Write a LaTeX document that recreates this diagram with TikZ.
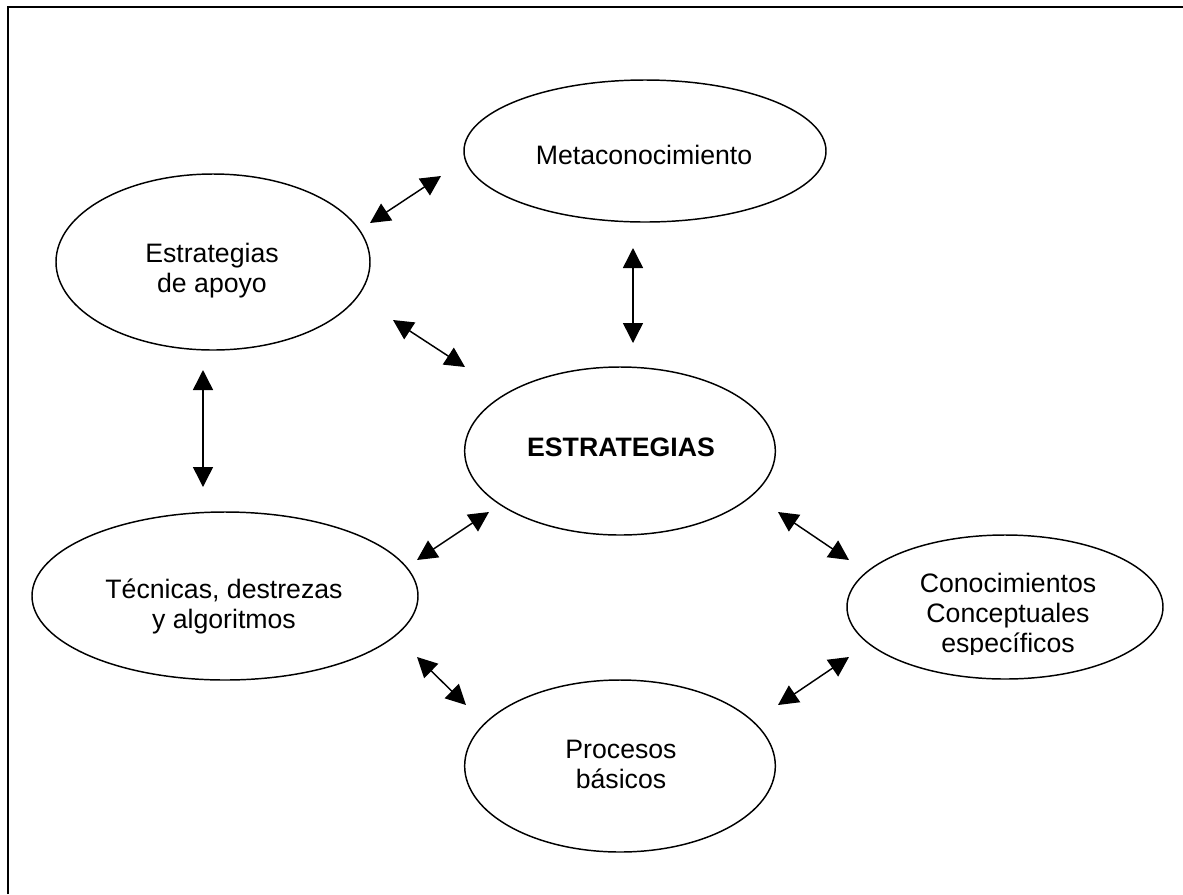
\documentclass[tikz,border=0pt]{standalone}
\usepackage{fontspec}
\setmainfont{Liberation Sans}
\usetikzlibrary{shapes.geometric,arrows.meta}
\begin{document}
\begin{tikzpicture}[x=0.75pt,y=-0.75pt,
  oval/.style={draw, ellipse, line width=1.1pt, inner sep=0pt},
  lbl/.style={font=\fontsize{20}{22.5}\selectfont, align=center, inner sep=0pt},
  link/.style={line width=1.1pt, {Triangle[length=15pt,width=15pt]}-{Triangle[length=15pt,width=15pt]}}
]
\useasboundingbox (0,0) rectangle (1183,894);
\draw[line width=2.2pt] (8,894) -- (8,7) -- (1183,7);

\node[oval, minimum width=271.5pt, minimum height=106.5pt] (meta) at (645,151) {};
\node[oval, minimum width=235.5pt, minimum height=132pt] (apoyo) at (213,262) {};
\node[oval, minimum width=233pt, minimum height=126pt] (estr) at (620,451) {};
\node[oval, minimum width=289.5pt, minimum height=126pt] (tec) at (225,596) {};
\node[oval, minimum width=237pt, minimum height=108pt] (con) at (1005,607) {};
\node[oval, minimum width=233pt, minimum height=129pt] (proc) at (620,766) {};

\node[lbl] (metat) at (644,155) {Metaconocimiento};
\node[lbl] (apoyot) at (212,271) {Estrategias\\de apoyo};
\node[lbl] (estrt) at (621,447) {\bfseries ESTRATEGIAS};
\node[lbl] (tect) at (224,606) {Técnicas, destrezas\\y algoritmos};
\begin{scope}
  \clip (850,550) rectangle (1160,654);
  \node[lbl] (cont) at (1008,616) {Conocimientos\\Conceptuales\\específicos};
\end{scope}
\node[lbl] (proct) at (621,764) {Procesos\\básicos};

\coordinate (a1s) at (370,223); \coordinate (a1e) at (441,176);
\coordinate (a2s) at (633,248); \coordinate (a2e) at (633,343);
\coordinate (a3s) at (393,320); \coordinate (a3e) at (465,367);
\coordinate (a4s) at (203,370); \coordinate (a4e) at (203,487);
\coordinate (a5s) at (417,560); \coordinate (a5e) at (489,512);
\coordinate (a6s) at (778,512); \coordinate (a6e) at (849,560);
\coordinate (a7s) at (417,657); \coordinate (a7e) at (466,705);
\coordinate (a8s) at (849,657); \coordinate (a8e) at (778,705);

\draw[link] (a1s) -- (a1e);
\draw[link] (a2s) -- (a2e);
\draw[link] (a3s) -- (a3e);
\draw[link] (a4s) -- (a4e);
\draw[link] (a5s) -- (a5e);
\draw[link] (a6s) -- (a6e);
\draw[link] (a7s) -- (a7e);
\draw[link] (a8s) -- (a8e);
\end{tikzpicture}
\end{document}
